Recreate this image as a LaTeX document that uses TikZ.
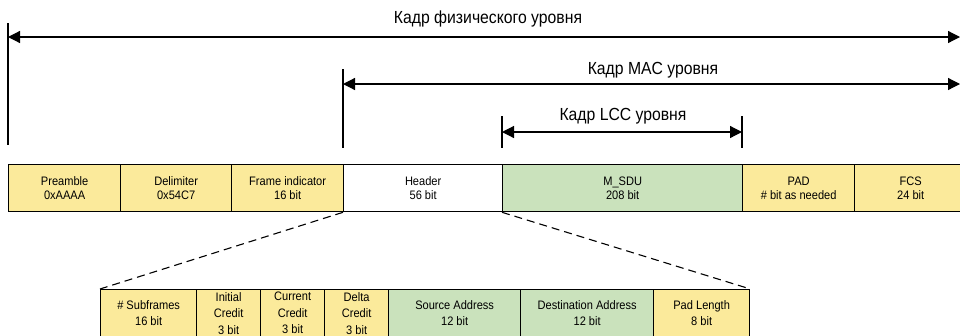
\documentclass[tikz,border=0pt]{standalone}
\usepackage{fontspec}
\setmainfont{Liberation Sans}[FakeStretch=0.9]
\usetikzlibrary{arrows.meta}
\definecolor{cellyellow}{RGB}{251,234,155}
\definecolor{cellgreen}{RGB}{202,226,188}
\tikzset{
  cell/.style={draw, line width=1.3pt, inner sep=0pt, minimum height=47pt, anchor=north west, align=center},
  toprow/.style={cell, font=\fontsize{12.3}{14.5}\selectfont},
  botrow/.style={cell, font=\fontsize{12.3}{16.5}\selectfont},
  yel/.style={fill=cellyellow},
  grn/.style={fill=cellgreen},
  wht/.style={fill=white},
  dimarrow/.style={line width=1.2pt, {Triangle[length=12pt,width=12pt]}-{Triangle[length=12pt,width=12pt]}},
  tick/.style={line width=1.2pt},
  zoomline/.style={line width=1.1pt, dash pattern=on 8pt off 5pt},
  title/.style={font=\fontsize{17.5}{19}\selectfont, inner sep=0pt}
}
\begin{document}
\begin{tikzpicture}[x=1pt,y=-1pt]
\useasboundingbox (0,0) rectangle (960,335);
\clip (0,0) rectangle (960,335);
% top row
\node[toprow,yel,minimum width=112pt] (preamble) at (8,164) {Preamble\\0xAAAA};
\node[toprow,yel,minimum width=111pt] (delim) at (120,164) {Delimiter\\0x54C7};
\node[toprow,yel,minimum width=112pt] (findic) at (231,164) {Frame indicator\\16 bit};
\node[toprow,wht,minimum width=159pt] (header) at (343,164) {Header\\56 bit};
\node[toprow,grn,minimum width=240pt] (msdu) at (502,164) {M\_SDU\\208 bit};
\node[toprow,yel,minimum width=112pt] (pad) at (742,164) {PAD\\\# bit as needed};
\node[toprow,yel,minimum width=112pt] (fcs) at (854,164) {FCS\\24 bit};
% bottom row
\node[botrow,yel,minimum width=96pt] (sub) at (100,289) {\# Subframes\\16 bit};
\node[botrow,yel,minimum width=64pt] (icr) at (196,289) {Initial\\Credit\\3 bit};
\node[botrow,yel,minimum width=64pt] (ccr) at (260,289) {Current\\Credit\\3 bit};
\node[botrow,yel,minimum width=64pt] (dcr) at (324,289) {Delta\\Credit\\3 bit};
\node[botrow,grn,minimum width=132pt] (src) at (388,289) {Source Address\\12 bit};
\node[botrow,grn,minimum width=133pt] (dst) at (520,289) {Destination Address\\12 bit};
\node[botrow,yel,minimum width=96pt] (padlen) at (653,289) {Pad Length\\8 bit};
% zoom lines
\draw[zoomline] (header.south west) -- (sub.north west);
\draw[zoomline] (msdu.south west) -- (padlen.north east);
% dimension arrows
\coordinate (phyL) at (8,37);
\coordinate (phyR) at (960,37);
\coordinate (macL) at (343,84);
\coordinate (macR) at (960,84);
\coordinate (lccL) at (502,132);
\coordinate (lccR) at (742,132);
\draw[tick] (8,23) -- (8,145);
\draw[tick] (343,69) -- (343,148);
\draw[tick] (502,116) -- (502,148);
\draw[tick] (742,116) -- (742,148);
\draw[dimarrow] (phyL) -- (phyR);
\draw[dimarrow] (macL) -- (macR);
\draw[dimarrow] (lccL) -- (lccR);
\node[title] (phyT) at (488,19) {Кадр физического уровня};
\node[title] (macT) at (653,70) {Кадр MAC уровня};
\node[title] (lccT) at (623,116) {Кадр LCC уровня};
\end{tikzpicture}
\end{document}
